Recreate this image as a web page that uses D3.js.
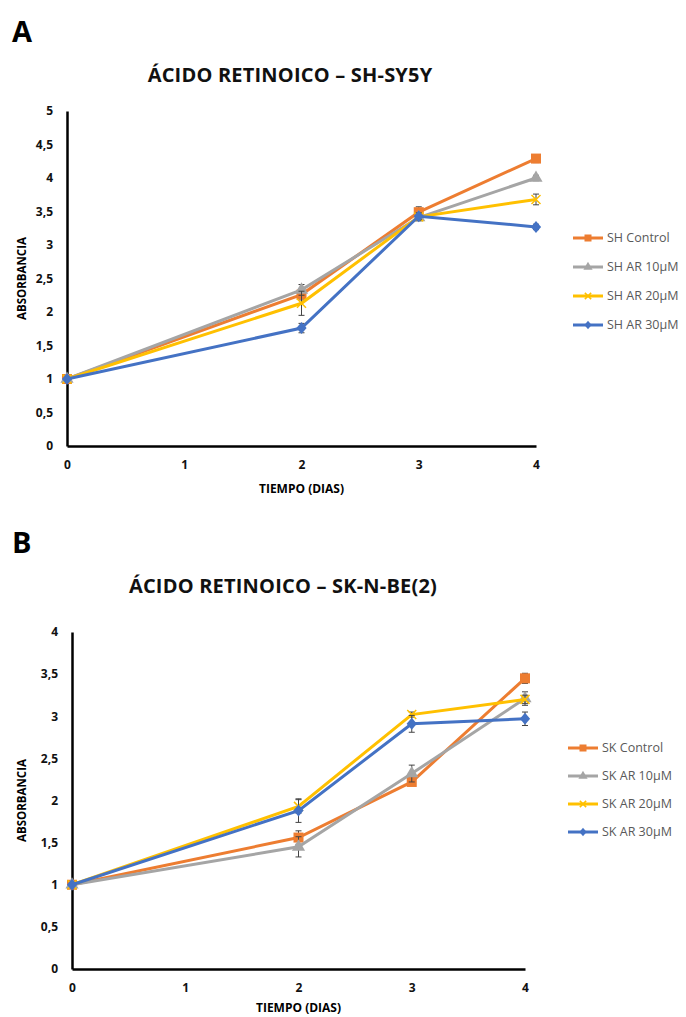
<!DOCTYPE html>
<html>
<head>
<meta charset="utf-8">
<script src="https://cdn.jsdelivr.net/npm/d3@7"></script>
<style>
  body { margin: 0; background: #fff; }
  svg { display: block; font-family: "Open Sans", "Noto Sans", sans-serif; }
</style>
</head>
<body>
<script>
const width = 686;
const height = 1017;

// Shared x values (days) and tick labels.
const days = [0, 2, 3, 4];
const xTicks = [0, 1, 2, 3, 4];

// Panel A: SH-SY5Y
const shNames = ['SH Control', 'SH AR 10μM', 'SH AR 20μM', 'SH AR 30μM'];
const shControl = [1, 2.26, 3.49, 4.29];
const sh10 = [1, 2.33, 3.41, 4.0];
const sh20 = [1, 2.13, 3.42, 3.68];
const sh30 = [1, 1.76, 3.43, 3.27];
const shControlErr = [0.02, 0.08, 0.08, 0.06];
const sh10Err = [0.02, 0.08, 0.05, 0.04];
const sh20Err = [0.02, 0.18, 0.05, 0.08];
const sh30Err = [0.02, 0.07, 0.05, 0.04];
const shYTicks = [0, 0.5, 1, 1.5, 2, 2.5, 3, 3.5, 4, 4.5, 5];

// Panel B: SK-N-BE(2)
const skNames = ['SK Control', 'SK AR 10μM', 'SK AR 20μM', 'SK AR 30μM'];
const skControl = [1, 1.56, 2.22, 3.45];
const sk10 = [1, 1.45, 2.32, 3.21];
const sk20 = [1, 1.93, 3.02, 3.2];
const sk30 = [1, 1.88, 2.91, 2.97];
const skControlErr = [0.02, 0.08, 0.04, 0.06];
const sk10Err = [0.02, 0.12, 0.1, 0.08];
const sk20Err = [0.02, 0.08, 0.03, 0.05];
const sk30Err = [0.02, 0.14, 0.1, 0.08];
const skYTicks = [0, 0.5, 1, 1.5, 2, 2.5, 3, 3.5, 4];

const colors = ['#ED7D31', '#A5A5A5', '#FFC000', '#4472C4'];
const shapes = ['square', 'triangle', 'x', 'diamond'];

let svg = d3
  .select('body')
  .append('svg')
  .attr('width', width)
  .attr('height', height);

const fmt = (d) => String(d).replace('.', ',');

function drawMarker(g, shape, color, size) {
  if (shape === 'square') {
    g.append('rect')
      .attr('x', -size / 2).attr('y', -size / 2)
      .attr('width', size).attr('height', size)
      .attr('fill', color);
  } else if (shape === 'triangle') {
    g.append('path')
      .attr('d', d3.symbol(d3.symbolTriangle, size * size * 0.75)())
      .attr('fill', color);
  } else if (shape === 'diamond') {
    const r = size * 0.6;
    g.append('path')
      .attr('d', `M0,${-r}L${r * 0.85},0L0,${r}L${-r * 0.85},0Z`)
      .attr('fill', color);
  } else {
    const r = size * 0.45;
    g.append('path')
      .attr('d', `M${-r},${-r}L${r},${r}M${-r},${r}L${r},${-r}`)
      .attr('stroke', color)
      .attr('stroke-width', 1.5);
  }
}

function drawPanel(cfg) {
  let g = svg.append('g');

  let x = d3.scaleLinear().domain([0, 4]).range([cfg.left, cfg.right]);
  let y = d3
    .scaleLinear()
    .domain([0, d3.max(cfg.yTicks)])
    .range([cfg.bottom, cfg.top]);

  // Panel letter and title.
  g.append('text')
    .attr('x', 12)
    .attr('y', cfg.letterY)
    .attr('font-size', 29)
    .attr('font-weight', 'bold')
    .text(cfg.letter);

  g.append('text')
    .attr('x', cfg.titleX)
    .attr('y', cfg.titleY)
    .attr('text-anchor', 'middle')
    .attr('font-size', 20)
    .attr('font-weight', 'bold')
    .attr('letter-spacing', 0.2)
    .attr('fill', '#111')
    .text(cfg.title);

  // Axes.
  let leftAxis = d3
    .axisLeft(y)
    .tickValues(cfg.yTicks)
    .tickFormat(fmt)
    .tickSize(0)
    .tickPadding(14);
  let bottomAxis = d3
    .axisBottom(x)
    .tickValues(xTicks)
    .tickFormat(d3.format('d'))
    .tickSize(0)
    .tickPadding(14);

  let ya = g.append('g').attr('transform', `translate(${cfg.left},0)`).call(leftAxis);
  let xa = g.append('g').attr('transform', `translate(0,${cfg.bottom})`).call(bottomAxis);
  [ya, xa].forEach((a) => {
    a.select('.domain').attr('stroke', '#000').attr('stroke-width', 2.5);
    a.selectAll('text')
      .attr('font-size', 12)
      .attr('font-weight', 'bold')
      .attr('fill', '#111')
      .attr('font-family', '"Open Sans", sans-serif');
  });

  g.append('text')
    .attr('x', (cfg.left + cfg.right) / 2)
    .attr('y', cfg.bottom + cfg.xTitleOffset)
    .attr('text-anchor', 'middle')
    .attr('font-size', 12)
    .attr('font-weight', 'bold')
    .text('TIEMPO (DIAS)');

  g.append('text')
    .attr('transform', `translate(26,${(cfg.top + cfg.bottom) / 2}) rotate(-90)`)
    .attr('text-anchor', 'middle')
    .attr('font-size', 11.5)
    .attr('font-weight', 'bold')
    .text('ABSORBANCIA');

  let line = d3
    .line()
    .x((d) => x(d.day))
    .y((d) => y(d.value));

  cfg.series.forEach((values, i) => {
    let data = values.map((v, j) => ({ day: days[j], value: v, err: cfg.errors[i][j] }));
    let sg = g.append('g');

    // Error bars.
    data.forEach((d) => {
      let eb = sg.append('g').attr('stroke', '#444').attr('stroke-width', 1);
      eb.append('line')
        .attr('x1', x(d.day)).attr('x2', x(d.day))
        .attr('y1', y(d.value - d.err)).attr('y2', y(d.value + d.err));
      [d.value - d.err, d.value + d.err].forEach((v) => {
        eb.append('line')
          .attr('x1', x(d.day) - 3).attr('x2', x(d.day) + 3)
          .attr('y1', y(v)).attr('y2', y(v));
      });
    });

    sg.append('path')
      .datum(data)
      .attr('fill', 'none')
      .attr('stroke', colors[i])
      .attr('stroke-width', 3)
      .attr('d', line);

    data.forEach((d) => {
      let m = sg.append('g').attr('transform', `translate(${x(d.day)},${y(d.value)})`);
      drawMarker(m, shapes[i], colors[i], 10);
    });
  });

  // Legend.
  cfg.names.forEach((name, i) => {
    let ly = cfg.legendY + i * cfg.legendStep;
    let lg = g.append('g').attr('transform', `translate(${cfg.legendX},${ly})`);
    lg.append('line')
      .attr('x1', 0).attr('x2', 30)
      .attr('stroke', colors[i])
      .attr('stroke-width', 3);
    let m = lg.append('g').attr('transform', 'translate(15,0)');
    drawMarker(m, shapes[i], colors[i], 7);
    lg.append('text')
      .attr('x', 34)
      .attr('dy', '0.35em')
      .attr('font-size', 12.5)
      .attr('fill', '#595959')
      .text(name);
  });
}

drawPanel({
  letter: 'A',
  letterY: 42,
  title: 'ÁCIDO RETINOICO – SH-SY5Y',
  titleX: 290,
  titleY: 82,
  left: 67,
  right: 536,
  top: 111,
  bottom: 446,
  xTitleOffset: 47,
  yTicks: shYTicks,
  series: [shControl, sh10, sh20, sh30],
  errors: [shControlErr, sh10Err, sh20Err, sh30Err],
  names: shNames,
  legendX: 573,
  legendY: 238,
  legendStep: 29
});

drawPanel({
  letter: 'B',
  letterY: 553,
  title: 'ÁCIDO RETINOICO – SK-N-BE(2)',
  titleX: 283,
  titleY: 593,
  left: 72,
  right: 525,
  top: 632,
  bottom: 969,
  xTitleOffset: 43,
  yTicks: skYTicks,
  series: [skControl, sk10, sk20, sk30],
  errors: [skControlErr, sk10Err, sk20Err, sk30Err],
  names: skNames,
  legendX: 568,
  legendY: 748,
  legendStep: 28
});
</script>
</body>
</html>
